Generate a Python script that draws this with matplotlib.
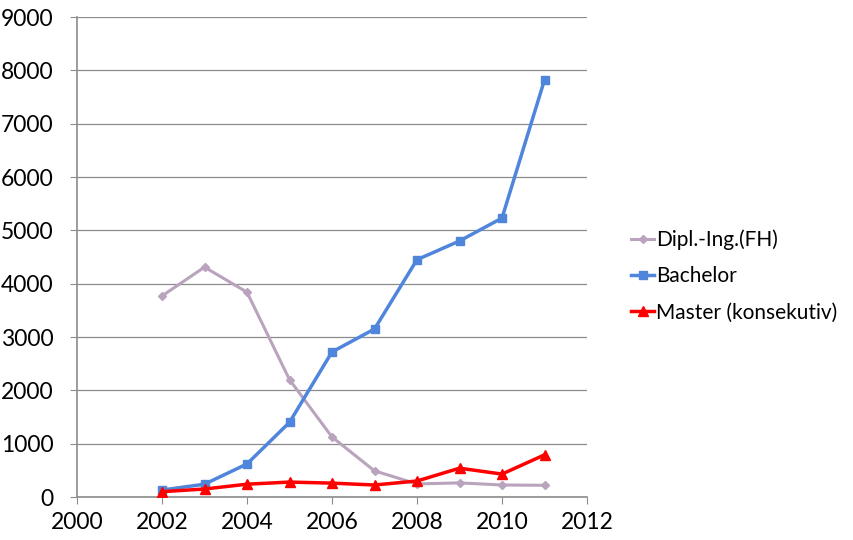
import matplotlib
matplotlib.use("Agg")
import matplotlib.pyplot as plt

years = [2002, 2003, 2004, 2005, 2006, 2007, 2008, 2009, 2010, 2011]
dipl = [3770, 4310, 3840, 2200, 1125, 490, 245, 265, 225, 220]
bachelor = [130, 240, 620, 1400, 2720, 3150, 4450, 4800, 5230, 7820]
master = [100, 150, 240, 280, 260, 225, 300, 540, 430, 790]

labels = ["Dipl.-Ing.(FH)", "Bachelor", "Master (konsekutiv)"]
x_ticks = [2000, 2002, 2004, 2006, 2008, 2010, 2012]
y_ticks = [0, 1000, 2000, 3000, 4000, 5000, 6000, 7000, 8000, 9000]

plt.rcParams['font.family'] = ['Lato', 'DejaVu Sans']

fig = plt.figure(figsize=(8.54, 5.4), dpi=100)
ax = fig.add_axes([77 / 854, 1 - 497 / 540, (587 - 77) / 854, (497 - 17) / 540])

ax.plot(years, dipl, color="#b9a3bd", lw=2.2, marker="D", ms=4, label=labels[0], zorder=3)
ax.plot(years, bachelor, color="#4f86dc", lw=2.5, marker="s", ms=6, label=labels[1], zorder=4)
ax.plot(years, master, color="#ff0000", lw=2.5, marker="^", ms=7, label=labels[2], zorder=5)

ax.set_xlim(2000, 2012)
ax.set_ylim(0, 9000)
ax.set_xticks(x_ticks)
ax.set_yticks(y_ticks)
ax.yaxis.grid(True, color="#8c8c8c", lw=0.9)
ax.set_axisbelow(True)
for s in ("top", "right"):
    ax.spines[s].set_visible(False)
for s in ("left", "bottom"):
    ax.spines[s].set_color("#8c8c8c")
    ax.spines[s].set_linewidth(1.2)
ax.tick_params(axis="both", labelsize=16.5, color="#8c8c8c", length=5, direction="out")
ax.tick_params(axis="x", pad=6)
ax.tick_params(axis="y", pad=12)

ax.legend(loc="center left", bbox_to_anchor=(1.05, 0.46), frameon=False,
          fontsize=15, handlelength=1.1, handletextpad=0.1, labelspacing=0.78)

fig.savefig("out.png", dpi=100)
